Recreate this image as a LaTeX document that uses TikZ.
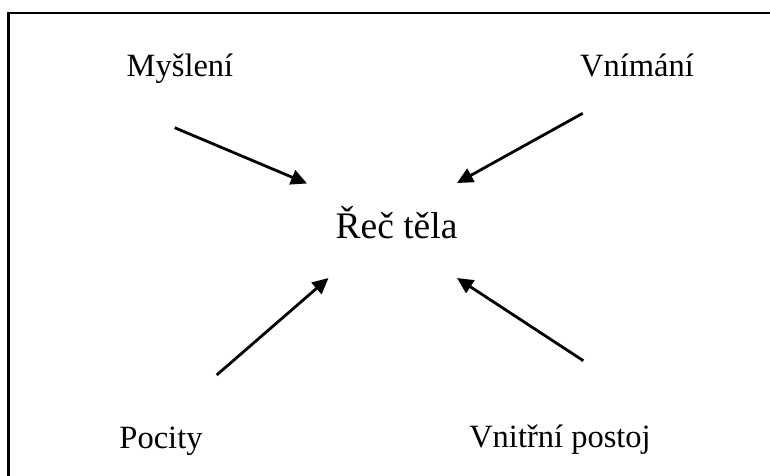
\documentclass[tikz,border=0pt]{standalone}
\usepackage{fontspec}
\setmainfont{Liberation Serif}
\usetikzlibrary{arrows.meta}
\begin{document}
\begin{tikzpicture}[x=1pt,y=-1pt,
  lbl/.style={font=\fontsize{32.5}{38}\selectfont, anchor=base, inner sep=0pt},
  mainlbl/.style={font=\fontsize{37.5}{44}\selectfont, anchor=base, inner sep=0pt},
  arr/.style={line width=2.8pt, -{Triangle[length=16pt,width=15pt]}}]
\useasboundingbox (0,0) rectangle (770,475);
\draw[line width=2.6pt] (8.5,13) rectangle (775,480);
\node[lbl] (mys) at (180,76.5) {Myšlení};
\node[lbl] (vni) at (637,76.5) {Vnímání};
\node[mainlbl] (rec) at (396.5,238) {Řeč těla};
\node[lbl] (poc) at (161,448) {Pocity};
\node[lbl] (vnp) at (560,447) {Vnitřní postoj};
\coordinate (a1s) at (174.7,127.7);
\coordinate (a1e) at (307,183.5);
\coordinate (a2s) at (216.7,375);
\coordinate (a2e) at (328.5,278);
\coordinate (a3s) at (582.7,113.3);
\coordinate (a3e) at (457,183);
\coordinate (a4s) at (583.3,360.7);
\coordinate (a4e) at (457,278);
\draw[arr] (a1s) -- (a1e);
\draw[arr] (a2s) -- (a2e);
\draw[arr] (a3s) -- (a3e);
\draw[arr] (a4s) -- (a4e);
\end{tikzpicture}
\end{document}
